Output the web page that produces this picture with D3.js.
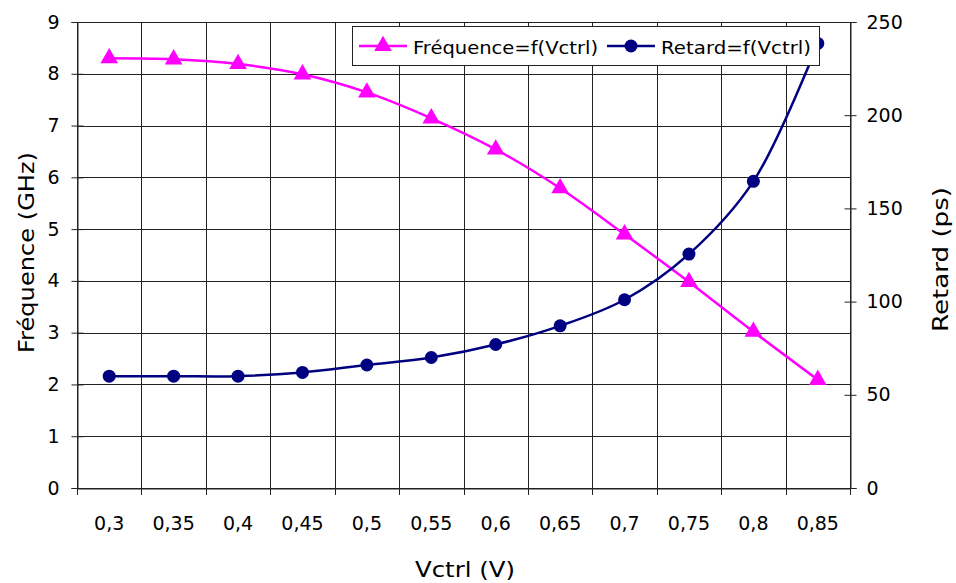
<!DOCTYPE html>
<html><head><meta charset="utf-8">
<script src="https://cdn.jsdelivr.net/npm/d3@7"></script>
<style>body{margin:0;background:#fff}svg{display:block}</style>
</head><body>
<script>
const categories = ["0,3","0,35","0,4","0,45","0,5","0,55","0,6","0,65","0,7","0,75","0,8","0,85"];
const frequence = [8.3, 8.28, 8.19, 7.99, 7.64, 7.14, 6.54, 5.79, 4.9, 3.98, 3.02, 2.09];
const retard = [60, 60, 60, 62, 66, 70, 77, 87, 101, 125.5, 164.5, 238.5];
const leftTicks = [0,1,2,3,4,5,6,7,8,9];
const rightTicks = [0,50,100,150,200,250];

const W = 956, H = 583;
const m = {left:77, right:850, top:22, bottom:488};
const svg = d3.select("body").append("svg").attr("width",W).attr("height",H);

const x = d3.scaleBand().domain(categories).range([m.left, m.right]).padding(0);
const yL = d3.scaleLinear().domain([0,9]).range([m.bottom, m.top]);
const yR = d3.scaleLinear().domain([0,250]).range([m.bottom, m.top]);

const tickFont = "'DejaVu Sans', Verdana, sans-serif";
const titleFont = "'DejaVu Sans', sans-serif";

// grid
const g = svg.append("g").attr("stroke","#222").attr("stroke-width",1).attr("shape-rendering","crispEdges");
leftTicks.forEach(t => g.append("line").attr("x1",m.left).attr("x2",m.right).attr("y1",Math.round(yL(t))+0.5).attr("y2",Math.round(yL(t))+0.5));
const bounds = categories.map(c => x(c)).concat([m.right]);
bounds.forEach(b => g.append("line").attr("x1",Math.round(b)+0.5).attr("x2",Math.round(b)+0.5).attr("y1",m.top).attr("y2",m.bottom));

// axes
const axL = d3.axisLeft(yL).tickValues(leftTicks).tickSize(6).tickPadding(12);
const gL = svg.append("g").attr("transform",`translate(${m.left+0.5},0)`).call(axL);
const axR = d3.axisRight(yR).tickValues(rightTicks).tickSize(6).tickPadding(10);
const gR = svg.append("g").attr("transform",`translate(${m.right+0.5},0)`).call(axR);
const axB = d3.axisBottom(x).tickSize(0).tickPadding(28);
const gB = svg.append("g").attr("transform",`translate(0,${m.bottom+0.5})`).call(axB);
[gL,gR,gB].forEach(a => {
  a.select(".domain").attr("stroke","#222");
  a.selectAll(".tick line").attr("stroke","#222");
  a.selectAll("text").attr("font-family",tickFont).attr("font-size",19).attr("fill","#000");
});
gL.selectAll(".tick line").attr("x1",6);
gR.selectAll(".tick line").attr("x1",-6);
bounds.forEach(b => svg.append("line").attr("x1",Math.round(b)+0.5).attr("x2",Math.round(b)+0.5)
  .attr("y1",m.bottom).attr("y2",m.bottom+7).attr("stroke","#222"));

// lines
const curve = d3.curveCatmullRom.alpha(0.5);
const cx = (d,i)=>x(categories[i])+x.bandwidth()/2;
const lineF = d3.line().x(cx).y(d=>yL(d)).curve(curve);
const lineR = d3.line().x(cx).y(d=>yR(d)).curve(curve);
svg.append("path").attr("d",lineF(frequence)).attr("fill","none").attr("stroke","#FF00FF").attr("stroke-width",2.5);
svg.append("path").attr("d",lineR(retard)).attr("fill","none").attr("stroke","#000080").attr("stroke-width",2.5);

const tri = d3.symbol().type(d3.symbolTriangle).size(135);
svg.selectAll(".tri").data(frequence).enter().append("path")
  .attr("d",tri).attr("fill","#FF00FF")
  .attr("transform",(d,i)=>`translate(${cx(d,i)},${yL(d)})`);
svg.selectAll(".dot").data(retard).enter().append("circle")
  .attr("cx",cx).attr("cy",d=>yR(d)).attr("r",6.5).attr("fill","#000080");

// legend
const lg = svg.append("g");
lg.append("rect").attr("x",352.5).attr("y",26.5).attr("width",467).attr("height",39).attr("fill","#fff").attr("stroke","#222");
lg.append("line").attr("x1",359).attr("x2",407).attr("y1",46).attr("y2",46).attr("stroke","#FF00FF").attr("stroke-width",2.5);
lg.append("path").attr("d",tri).attr("fill","#FF00FF").attr("transform","translate(383,46)");
lg.append("text").attr("x",413).attr("y",54).text("Fréquence=f(Vctrl)").attr("font-family",titleFont).attr("font-size",18)
  .attr("textLength",185).attr("lengthAdjust","spacingAndGlyphs");
lg.append("line").attr("x1",607).attr("x2",655).attr("y1",46).attr("y2",46).attr("stroke","#000080").attr("stroke-width",2.5);
lg.append("circle").attr("cx",631).attr("cy",46).attr("r",6.5).attr("fill","#000080");
lg.append("text").attr("x",661).attr("y",54).text("Retard=f(Vctrl)").attr("font-family",titleFont).attr("font-size",18)
  .attr("textLength",150).attr("lengthAdjust","spacingAndGlyphs");

// titles
svg.append("text").attr("transform","translate(34,353) rotate(-90)")
  .attr("font-family",titleFont).attr("font-size",22).attr("textLength",201).attr("lengthAdjust","spacingAndGlyphs").text("Fréquence (GHz)");
svg.append("text").attr("transform","translate(948,332) rotate(-90)")
  .attr("font-family",titleFont).attr("font-size",22).attr("textLength",145).attr("lengthAdjust","spacingAndGlyphs").text("Retard (ps)");
svg.append("text").attr("x",415).attr("y",577)
  .attr("font-family",titleFont).attr("font-size",22).attr("textLength",100).attr("lengthAdjust","spacingAndGlyphs").text("Vctrl (V)");
</script>
</body></html>
